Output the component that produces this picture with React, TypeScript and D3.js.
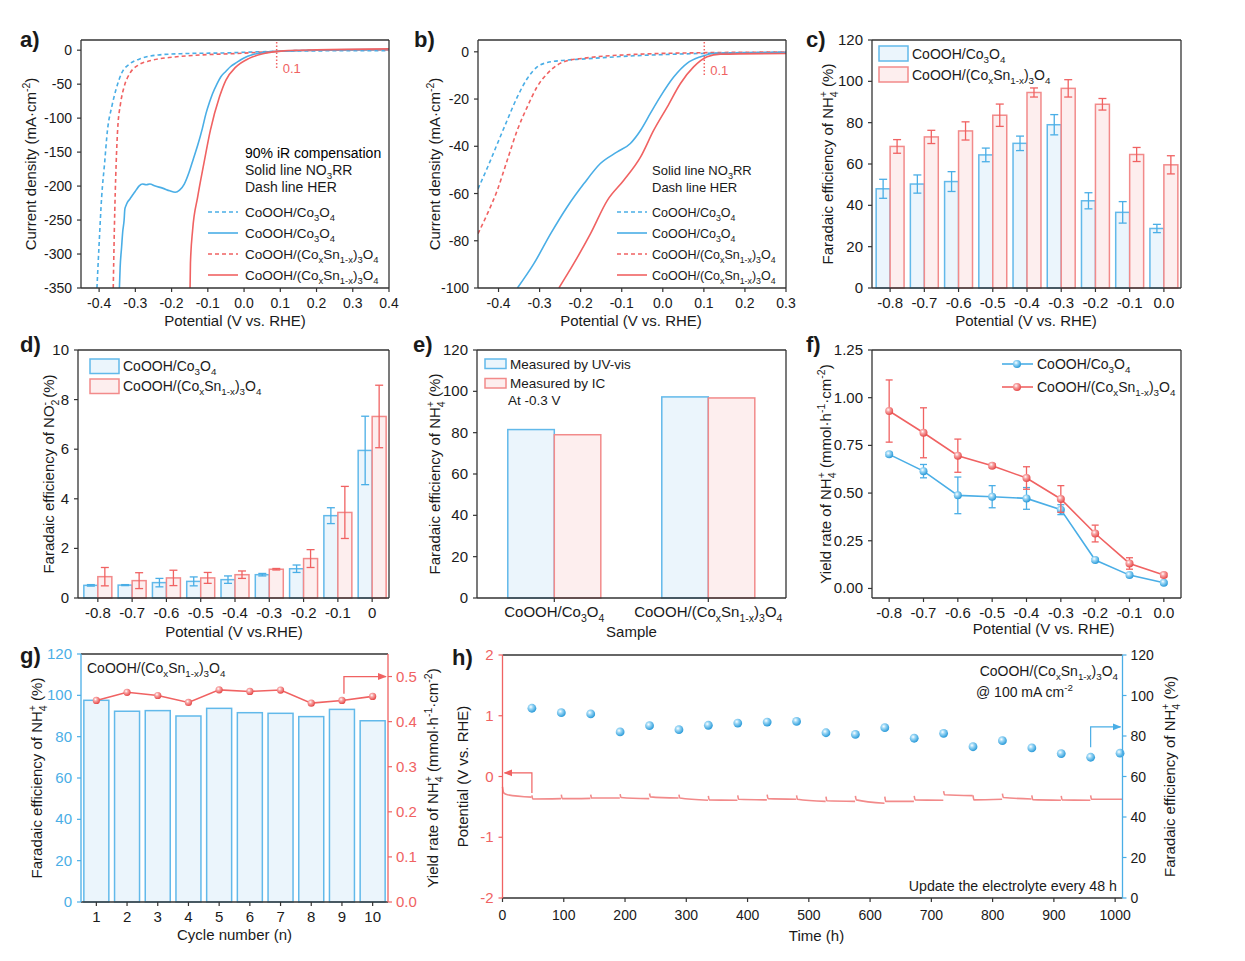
import React from 'react';
import * as d3 from 'd3';

// ================= DATA =================
// Panel a: LSV curves [potential V, current density mA cm-2]
const aHerCo: [number, number][] = [[-0.406,-350],[-0.400,-285],[-0.393,-216],[-0.385,-167],[-0.377,-118],[-0.365,-83],[-0.354,-59],[-0.338,-34],[-0.315,-20],[-0.283,-12],[-0.237,-7],[-0.164,-5],[-0.05,-4],[0.05,-2.2],[0.15,-1.2],[0.4,-0.6]];
const aHerSn: [number, number][] = [[-0.361,-350],[-0.358,-265],[-0.353,-167],[-0.349,-118],[-0.341,-79],[-0.331,-54],[-0.315,-34],[-0.292,-22],[-0.256,-15],[-0.192,-10],[-0.119,-7],[-0.027,-5],[0.064,-2.5],[0.15,-0.5],[0.4,0.5]];
const aNo3Co: [number, number][] = [[-0.344,-350],[-0.342,-320],[-0.338,-290],[-0.335,-268],[-0.331,-250],[-0.329,-234],[-0.326,-229],[-0.322,-224],[-0.315,-219],[-0.306,-212],[-0.298,-206],[-0.29,-200],[-0.28,-197],[-0.27,-198],[-0.26,-197],[-0.245,-200],[-0.225,-203],[-0.205,-207],[-0.19,-209],[-0.178,-206],[-0.165,-197],[-0.152,-180],[-0.14,-160],[-0.128,-140],[-0.115,-115],[-0.105,-93],[-0.095,-76],[-0.087,-64],[-0.075,-50],[-0.064,-39],[-0.05,-31],[-0.037,-24],[-0.02,-18],[-0.009,-14],[0.01,-9],[0.027,-6],[0.05,-4],[0.073,-2.5],[0.1,-1.5],[0.155,-0.5],[0.25,0.5],[0.4,1]];
const aNo3Sn: [number, number][] = [[-0.149,-350],[-0.148,-314],[-0.142,-265],[-0.128,-216],[-0.111,-167],[-0.093,-118],[-0.068,-69],[-0.05,-44],[-0.023,-25],[0.014,-12],[0.055,-5],[0.11,-1],[0.2,0.5],[0.4,2]];

// Panel b
const bHerCo: [number, number][] = [[-0.45,-58],[-0.427,-49],[-0.403,-39],[-0.379,-29],[-0.354,-19],[-0.33,-11.3],[-0.306,-6.4],[-0.281,-4.5],[-0.253,-3.8],[-0.19,-3],[-0.07,-1.7],[0.09,-0.7],[0.3,-0.1]];
const bHerSn: [number, number][] = [[-0.45,-77],[-0.427,-68.5],[-0.403,-58.6],[-0.379,-46],[-0.354,-33],[-0.33,-23.3],[-0.306,-14.8],[-0.281,-9.2],[-0.257,-5.6],[-0.233,-3.8],[-0.192,-2.7],[-0.07,-1.1],[0.09,-0.4],[0.3,-0.1]];
const bNo3Co: [number, number][] = [[-0.354,-100],[-0.314,-89.7],[-0.273,-77],[-0.233,-65.7],[-0.192,-55.8],[-0.152,-47.3],[-0.111,-42.4],[-0.079,-38.8],[-0.054,-33.2],[-0.03,-26],[-0.006,-19],[0.027,-10.6],[0.059,-4.9],[0.092,-2.1],[0.124,-0.7],[0.3,-0.3]];
const bNo3Sn: [number, number][] = [[-0.253,-100],[-0.217,-89.7],[-0.176,-77],[-0.135,-62.9],[-0.095,-54.4],[-0.054,-44.5],[-0.022,-33.2],[0.011,-23.3],[0.043,-13.4],[0.075,-6.4],[0.108,-2.1],[0.14,-1],[0.3,-0.7]];

// Panel c: FE of NH4+
const cCats = ['-0.8','-0.7','-0.6','-0.5','-0.4','-0.3','-0.2','-0.1','0.0'];
const cBlue = [48,50.3,51.5,64.4,70,79,42.2,36.6,28.8];
const cBlueErr = [4.6,4.4,4.8,3.3,3.5,4.9,3.9,5.2,2];
const cRed = [68.5,73.1,76,83.6,94.6,96.6,88.9,64.6,59.6];
const cRedErr = [3.3,3.2,4.4,5.4,2.2,4.2,2.8,3.4,4.4];

// Panel d: FE of NO2-
const dCats = ['-0.8','-0.7','-0.6','-0.5','-0.4','-0.3','-0.2','-0.1','0'];
const dBlue = [0.51,0.52,0.62,0.67,0.74,0.94,1.18,3.32,5.95];
const dBlueErr = [0.03,0.02,0.17,0.18,0.15,0.05,0.15,0.32,1.38];
const dRed = [0.86,0.70,0.81,0.81,0.94,1.16,1.59,3.45,7.32];
const dRedErr = [0.37,0.32,0.31,0.22,0.15,0.03,0.36,1.05,1.26];

// Panel e
const eCats = ['CoOOH/Co_{3}O_{4}','CoOOH/(Co_{x}Sn_{1-x})_{3}O_{4}'];
const eUV = [81.5, 97.3];
const eIC = [79, 96.8];

// Panel f: yield rate
const fPot = [-0.8,-0.7,-0.6,-0.5,-0.4,-0.3,-0.2,-0.1,0.0];
const fBlue = [0.703,0.615,0.488,0.481,0.472,0.413,0.149,0.07,0.03];
const fBlueErr = [0.01,0.035,0.096,0.058,0.057,0.026,0.008,0.008,0.006];
const fRed = [0.93,0.816,0.696,0.643,0.579,0.469,0.288,0.131,0.07];
const fRedErr = [0.163,0.131,0.087,0.01,0.059,0.07,0.044,0.03,0.01];

// Panel g: cycling
const gCycles = ['1','2','3','4','5','6','7','8','9','10'];
const gFE = [97.6,92.3,92.6,90,93.7,91.6,91.3,89.7,93.2,87.7];
const gYield = [0.447,0.465,0.458,0.4425,0.4705,0.467,0.47,0.441,0.447,0.456];

// Panel h: long-term stability
const hTimes = [48,96,144,192,240,288,336,384,432,480,528,576,624,672,720,768,816,864,912,960,1008];
const hFE = [93.7,91.5,90.9,82,85.1,83.1,85.3,86.4,86.9,87.2,81.6,80.8,84.1,78.9,81.3,74.7,77.7,74.1,71.3,69.5,71.5];
const hSegT0 = [0,48,96,144,192,240,288,336,384,432,480,528,576,624,672,720,768,816,864,912,960];
const hSegT1 = [48,96,144,192,240,288,336,384,432,480,528,576,624,672,720,768,816,864,912,960,1012];
const hSegSpike = [-0.17,-0.31,-0.30,-0.30,-0.29,-0.28,-0.30,-0.32,-0.31,-0.30,-0.31,-0.33,-0.32,-0.33,-0.32,-0.24,-0.31,-0.28,-0.31,-0.32,-0.31];
const hSegSettle = [-0.30,-0.37,-0.365,-0.355,-0.345,-0.335,-0.355,-0.385,-0.375,-0.365,-0.375,-0.40,-0.385,-0.41,-0.385,-0.30,-0.385,-0.345,-0.38,-0.385,-0.375];
const hSegEnd = [-0.34,-0.365,-0.36,-0.355,-0.365,-0.355,-0.39,-0.39,-0.385,-0.375,-0.41,-0.41,-0.44,-0.41,-0.39,-0.315,-0.375,-0.37,-0.39,-0.39,-0.375];

// ================= STYLE =================
const FONT = '"Liberation Sans", Arial, Helvetica, sans-serif';
const BLUE = '#4aaee6';
const RED = '#f06262';
const BLUE_FILL = '#ebf5fc';
const RED_FILL = '#fdeeee';
const BLUE_EDGE = '#62b9ea';
const RED_EDGE = '#f28a8a';
const FRAME = '#333333';
const TXT = '#1a1a1a';
const NAME_CO = 'CoOOH/Co_{3}O_{4}';
const NAME_SN = 'CoOOH/(Co_{x}Sn_{1-x})_{3}O_{4}';

// ================= HELPERS =================
type Part = { t: string; k: 'n' | 'sub' | 'sup' };
function parseRich(s: string): Part[] {
  const parts: Part[] = [];
  const re = /([_^])\{([^}]*)\}/g;
  let last = 0;
  let m: RegExpExecArray | null;
  while ((m = re.exec(s))) {
    if (m.index > last) parts.push({ t: s.slice(last, m.index), k: 'n' });
    parts.push({ t: m[2], k: m[1] === '_' ? 'sub' : 'sup' });
    last = re.lastIndex;
  }
  if (last < s.length) parts.push({ t: s.slice(last), k: 'n' });
  return parts;
}

function RT({ x = 0, y = 0, text, fs = 14, anchor = 'start', fill = TXT, transform, weight }: any) {
  const parts = parseRich(text);
  let cur = 0;
  const spans = parts.map((p, i) => {
    const target = p.k === 'sub' ? fs * 0.3 : p.k === 'sup' ? -fs * 0.42 : 0;
    const dy = target - cur;
    cur = target;
    let dx = 0;
    if (p.k === 'sup' && i > 0 && parts[i - 1].k === 'sub') dx = -parts[i - 1].t.length * fs * 0.7 * 0.56;
    return (
      <tspan key={i} dy={dy} dx={dx} fontSize={p.k === 'n' ? fs : fs * 0.7}>
        {p.t}
      </tspan>
    );
  });
  return (
    <text x={x} y={y} textAnchor={anchor} fill={fill} fontSize={fs} fontWeight={weight} transform={transform}>
      {spans}
    </text>
  );
}

function VTitle({ cx, cy, text, fs = 15, fill = TXT }: any) {
  return <RT x={0} y={0} text={text} fs={fs} anchor="middle" fill={fill} transform={`translate(${cx + 5},${cy}) rotate(-90)`} />;
}

function Frame({ x0, x1, y0, y1, left = FRAME, right = FRAME, top = FRAME, bottom = FRAME }: any) {
  const sw = 1.3;
  return (
    <g strokeWidth={sw} fill="none">
      <line x1={x0} x2={x1} y1={y0} y2={y0} stroke={top} />
      <line x1={x0} x2={x1} y1={y1} y2={y1} stroke={bottom} />
      <line x1={x0} x2={x0} y1={y0} y2={y1} stroke={left} />
      <line x1={x1} x2={x1} y1={y0} y2={y1} stroke={right} />
    </g>
  );
}

function BottomTicks({ ticks, y, fs = 14, gap = 20, fill = TXT, stroke = FRAME }: any) {
  return (
    <g>
      {ticks.map((t: any, i: number) => (
        <g key={i}>
          <line x1={t.pos} x2={t.pos} y1={y} y2={y + 4} stroke={stroke} strokeWidth={1.2} />
          {t.rich ? (
            <RT x={t.pos} y={y + gap} text={t.label} fs={fs} anchor="middle" fill={fill} />
          ) : (
            <text x={t.pos} y={y + gap} textAnchor="middle" fontSize={fs} fill={fill}>
              {t.label}
            </text>
          )}
        </g>
      ))}
    </g>
  );
}

function LeftTicks({ ticks, x, fs = 14, gap = 9, fill = TXT, stroke = FRAME }: any) {
  return (
    <g>
      {ticks.map((t: any, i: number) => (
        <g key={i}>
          <line x1={x - 4} x2={x} y1={t.pos} y2={t.pos} stroke={stroke} strokeWidth={1.2} />
          <text x={x - gap} y={t.pos + 5} textAnchor="end" fontSize={fs} fill={fill}>
            {t.label}
          </text>
        </g>
      ))}
    </g>
  );
}

function RightTicks({ ticks, x, fs = 14, gap = 8, fill = TXT, stroke = FRAME }: any) {
  return (
    <g>
      {ticks.map((t: any, i: number) => (
        <g key={i}>
          <line x1={x} x2={x + 4} y1={t.pos} y2={t.pos} stroke={stroke} strokeWidth={1.2} />
          <text x={x + gap} y={t.pos + 5} textAnchor="start" fontSize={fs} fill={fill}>
            {t.label}
          </text>
        </g>
      ))}
    </g>
  );
}

function ErrBar({ x, y1, y2, color, cap = 4 }: any) {
  return (
    <g stroke={color} strokeWidth={1.3}>
      <line x1={x} x2={x} y1={y1} y2={y2} />
      <line x1={x - cap} x2={x + cap} y1={y1} y2={y1} />
      <line x1={x - cap} x2={x + cap} y1={y2} y2={y2} />
    </g>
  );
}

function Letter({ x, y, t }: any) {
  return (
    <text x={x} y={y} fontSize={22} fontWeight="bold" fill={TXT}>
      {t}
    </text>
  );
}

const fmt1 = (v: number) => (Math.abs(v) < 1e-9 ? '0.0' : v.toFixed(1));
const fmt2 = (v: number) => (Math.abs(v) < 1e-9 ? '0.00' : v.toFixed(2));

// ================= PANELS =================
function LsvPanel({ id, x0, x1, y0, y1, xDomain, yDomain, xTicks, yTicks, her1, her2, no1, no2, legendTop, legendFs, showIR, legX, legLineX, markV, markLabelDy }: any) {
  const x = d3.scaleLinear().domain(xDomain).range([x0, x1]);
  const y = d3.scaleLinear().domain(yDomain).range([y1, y0]);
  const line = d3.line<[number, number]>().x((d) => x(d[0])).y((d) => y(d[1])).curve(d3.curveMonotoneX);
  const legY = legendTop;
  const legRows = [
    { dash: '4,3', c: BLUE, t: NAME_CO },
    { dash: undefined, c: BLUE, t: NAME_CO },
    { dash: '4,3', c: RED, t: NAME_SN },
    { dash: undefined, c: RED, t: NAME_SN },
  ];
  return (
    <g>
      <defs>
        <clipPath id={`clip-${id}`}>
          <rect x={x0} y={y0} width={x1 - x0} height={y1 - y0} />
        </clipPath>
      </defs>
      <g clipPath={`url(#clip-${id})`} fill="none" strokeWidth={1.6}>
        <path d={line(her1) || ''} stroke={BLUE} strokeDasharray="4,3" />
        <path d={line(her2) || ''} stroke={RED} strokeDasharray="4,3" />
        <path d={line(no1) || ''} stroke={BLUE} />
        <path d={line(no2) || ''} stroke={RED} />
      </g>
      <line x1={x(markV)} x2={x(markV)} y1={y0 + 2} y2={y(markLabelDy)} stroke={RED} strokeWidth={1.5} strokeDasharray="1.5,2" />
      <text x={x(markV) + 6} y={y(0) + 23} fontSize={13} fill={RED}>0.1</text>
      <Frame x0={x0} x1={x1} y0={y0} y1={y1} />
      <BottomTicks ticks={xTicks.map((v: number) => ({ pos: x(v), label: fmt1(v) }))} y={y1} />
      <LeftTicks ticks={yTicks.map((v: number) => ({ pos: y(v), label: String(v) }))} x={x0} />
      {showIR && <text x={legX} y={legY - 54} fontSize={legendFs}>90% iR compensation</text>}
      <RT x={legX} y={legY - 37} text={'Solid line  NO_{3}RR'} fs={legendFs} />
      <RT x={legX} y={legY - 20} text={'Dash line  HER'} fs={legendFs} />
      {legRows.map((r, i) => (
        <g key={i}>
          <line x1={legLineX} x2={legLineX + 30} y1={legY + i * 21} y2={legY + i * 21} stroke={r.c} strokeWidth={1.6} strokeDasharray={r.dash} />
          <RT x={legX} y={legY + i * 21 + 5} text={r.t} fs={legendFs - 0.5} />
        </g>
      ))}
    </g>
  );
}

function GroupBars({ x0, x1, y0, y1, bandR, cats, blue, blueErr, red, redErr, yDomain, yTicks, yFmt, padding }: any) {
  const xb = d3.scaleBand<string>().domain(cats).range(bandR).paddingInner(padding).paddingOuter(padding / 2);
  const xi = d3.scaleBand<string>().domain(['b', 'r']).range([0, xb.bandwidth()]);
  const y = d3.scaleLinear().domain(yDomain).range([y1, y0]);
  return (
    <g>
      {cats.map((c: string, i: number) => {
        const bx = (xb(c) || 0) + (xi('b') || 0);
        const rx = (xb(c) || 0) + (xi('r') || 0);
        const w = xi.bandwidth();
        return (
          <g key={c}>
            <rect x={bx} y={y(blue[i])} width={w} height={y(0) - y(blue[i])} fill={BLUE_FILL} stroke={BLUE_EDGE} strokeWidth={1.5} />
            <rect x={rx} y={y(red[i])} width={w} height={y(0) - y(red[i])} fill={RED_FILL} stroke={RED_EDGE} strokeWidth={1.5} />
            {blueErr && <ErrBar x={bx + w / 2} y1={y(blue[i] + blueErr[i])} y2={y(blue[i] - blueErr[i])} color={BLUE} />}
            {redErr && <ErrBar x={rx + w / 2} y1={y(red[i] + redErr[i])} y2={y(red[i] - redErr[i])} color={RED} />}
          </g>
        );
      })}
      <Frame x0={x0} x1={x1} y0={y0} y1={y1} />
      <BottomTicks ticks={cats.map((c: string) => ({ pos: (xb(c) || 0) + xb.bandwidth() / 2, label: c, rich: true }))} y={y1} fs={15} />
      <LeftTicks ticks={yTicks.map((v: number) => ({ pos: y(v), label: yFmt(v) }))} x={x0} fs={15} />
    </g>
  );
}

function LegendBoxes({ x, y, items, fs = 14, bw = 29, bh = 15, step = 21 }: any) {
  return (
    <g>
      {items.map((it: any, i: number) => (
        <g key={i}>
          <rect x={x} y={y + i * step} width={bw} height={bh} fill={it.fill} stroke={it.stroke} strokeWidth={1.5} />
          <RT x={x + bw + 4} y={y + i * step + bh / 2 + 5} text={it.t} fs={fs} />
        </g>
      ))}
    </g>
  );
}

function Gradients() {
  return (
    <defs>
      <radialGradient id="sphBlue" cx="38%" cy="35%" r="65%">
        <stop offset="0" stopColor="#ffffff" />
        <stop offset="0.35" stopColor="#9dd8f6" />
        <stop offset="1" stopColor="#2b9bd9" />
      </radialGradient>
      <radialGradient id="sphRed" cx="38%" cy="35%" r="65%">
        <stop offset="0" stopColor="#ffffff" />
        <stop offset="0.35" stopColor="#f8a8a8" />
        <stop offset="1" stopColor="#e64a4a" />
      </radialGradient>
      <marker id="arrRed" viewBox="0 0 10 10" refX="9" refY="5" markerWidth="7" markerHeight="7" orient="auto">
        <path d="M0,1 L10,5 L0,9 z" fill={RED} />
      </marker>
      <marker id="arrBlue" viewBox="0 0 10 10" refX="9" refY="5" markerWidth="7" markerHeight="7" orient="auto">
        <path d="M0,1 L10,5 L0,9 z" fill={BLUE} />
      </marker>
    </defs>
  );
}

function PanelF() {
  const x0 = 872, x1 = 1181, y0 = 350, y1 = 598;
  const x = d3.scaleLinear().domain([-0.85, 0.05]).range([x0, x1]);
  const y = d3.scaleLinear().domain([-0.05, 1.25]).range([y1, y0]);
  const line = d3.line<number>().x((_, i) => x(fPot[i])).y((d) => y(d));
  const series = [
    { v: fBlue, e: fBlueErr, c: BLUE, g: 'sphBlue' },
    { v: fRed, e: fRedErr, c: RED, g: 'sphRed' },
  ];
  return (
    <g>
      {series.map((s, k) => (
        <g key={k}>
          <path d={line(s.v) || ''} fill="none" stroke={s.c} strokeWidth={1.6} />
          {s.v.map((v, i) => (
            <ErrBar key={i} x={x(fPot[i])} y1={y(v + s.e[i])} y2={y(v - s.e[i])} color={s.c} cap={3.5} />
          ))}
          {s.v.map((v, i) => (
            <circle key={'c' + i} cx={x(fPot[i])} cy={y(v)} r={4} fill={`url(#${s.g})`} />
          ))}
        </g>
      ))}
      <Frame x0={x0} x1={x1} y0={y0} y1={y1} />
      <BottomTicks ticks={fPot.map((v) => ({ pos: x(v), label: fmt1(v) }))} y={y1} fs={15} />
      <LeftTicks ticks={[0, 0.25, 0.5, 0.75, 1.0, 1.25].map((v) => ({ pos: y(v), label: fmt2(v) }))} x={x0} fs={15} />
      {[
        { c: BLUE, g: 'sphBlue', t: NAME_CO, yy: 364 },
        { c: RED, g: 'sphRed', t: NAME_SN, yy: 387 },
      ].map((l, i) => (
        <g key={i}>
          <line x1={1002} x2={1033} y1={l.yy} y2={l.yy} stroke={l.c} strokeWidth={1.6} />
          <circle cx={1017} cy={l.yy} r={4} fill={`url(#${l.g})`} />
          <RT x={1037} y={l.yy + 5} text={l.t} fs={14} />
        </g>
      ))}
      <RT x={x(-0.35)} y={y1 + 36} text="Potential (V vs. RHE)" fs={15} anchor="middle" />
      <VTitle cx={826} cy={(y0 + y1) / 2} text={'Yield rate of NH_{4}^{+} (mmol·h^{-1}·cm^{-2})'} />
    </g>
  );
}

function PanelG() {
  const x0 = 81, x1 = 388, y0 = 654, y1 = 902;
  const xb = d3.scaleBand<string>().domain(gCycles).range([x0, x1]).paddingInner(0.186).paddingOuter(0.093);
  const yL = d3.scaleLinear().domain([0, 120]).range([y1, y0]);
  const yR = d3.scaleLinear().domain([0, 0.55]).range([y1, y0]);
  const cx = (c: string) => (xb(c) || 0) + xb.bandwidth() / 2;
  const line = d3.line<number>().x((_, i) => cx(gCycles[i])).y((d) => yR(d));
  const ax = cx('9') + 2;
  return (
    <g>
      {gCycles.map((c, i) => (
        <rect key={c} x={xb(c)} y={yL(gFE[i])} width={xb.bandwidth()} height={yL(0) - yL(gFE[i])} fill={BLUE_FILL} stroke={BLUE_EDGE} strokeWidth={1.5} />
      ))}
      <path d={line(gYield) || ''} fill="none" stroke={RED} strokeWidth={1.6} />
      {gYield.map((v, i) => (
        <circle key={i} cx={cx(gCycles[i])} cy={yR(v)} r={3.6} fill="url(#sphRed)" />
      ))}
      <polyline points={`${ax},${yR(0.462)} ${ax},${yR(0.5)} ${x1 - 2},${yR(0.5)}`} fill="none" stroke={RED} strokeWidth={1.3} markerEnd="url(#arrRed)" />
      <Frame x0={x0} x1={x1} y0={y0} y1={y1} left={BLUE} right={RED} />
      <BottomTicks ticks={gCycles.map((c) => ({ pos: cx(c), label: c }))} y={y1} fs={15} />
      <LeftTicks ticks={d3.range(0, 121, 20).map((v) => ({ pos: yL(v), label: String(v) }))} x={x0} fs={15} fill={BLUE} stroke={BLUE} />
      <RightTicks ticks={[0, 0.1, 0.2, 0.3, 0.4, 0.5].map((v) => ({ pos: yR(v), label: fmt1(v) }))} x={x1} fs={15} fill={RED} stroke={RED} />
      <RT x={87} y={673} text={NAME_SN} fs={14} />
      <text x={(x0 + x1) / 2} y={940} textAnchor="middle" fontSize={15} fill={TXT}>Cycle number (n)</text>
      <VTitle cx={37} cy={(y0 + y1) / 2} text={'Faradaic efficiency of NH_{4}^{+} (%)'} />
      <VTitle cx={433} cy={(y0 + y1) / 2} text={'Yield rate of NH_{4}^{+} (mmol·h^{-1}·cm^{-2})'} />
    </g>
  );
}

function PanelH() {
  const x0 = 502.5, x1 = 1122.5, y0 = 655, y1 = 898;
  const x = d3.scaleLinear().domain([0, 1012]).range([x0, x1]);
  const yL = d3.scaleLinear().domain([-2, 2]).range([y1, y0]);
  const yR = d3.scaleLinear().domain([0, 120]).range([y1, y0]);
  const line = d3.line<[number, number]>().x((d) => x(d[0])).y((d) => yL(d[1])).curve(d3.curveMonotoneX);
  const rx = x(48);
  const bx = x(960);
  return (
    <g>
      {hSegT0.map((t0, i) => {
        const t1 = hSegT1[i];
        const pts: [number, number][] = i === 0
          ? [[t0, hSegSpike[i]], [t0 + 2, -0.27], [t0 + 8, hSegSettle[i]], [t1 - 0.5, hSegEnd[i]]]
          : [[t0, hSegSpike[i]], [t0 + 1.5, hSegSettle[i]], [t1 - 0.5, hSegEnd[i]]];
        return <path key={i} d={line(pts) || ''} fill="none" stroke={RED_EDGE} strokeWidth={1.6} />;
      })}
      {hTimes.map((t, i) => (
        <circle key={i} cx={x(t)} cy={yR(hFE[i])} r={4.4} fill="url(#sphBlue)" />
      ))}
      <polyline points={`${rx},${yL(-0.27)} ${rx},${yL(0.06)} ${x0 + 2},${yL(0.06)}`} fill="none" stroke={RED} strokeWidth={1.2} markerEnd="url(#arrRed)" />
      <polyline points={`${bx},${yR(74.5)} ${bx},${yR(84.5)} ${x1 - 2},${yR(84.5)}`} fill="none" stroke={BLUE} strokeWidth={1.2} markerEnd="url(#arrBlue)" />
      <Frame x0={x0} x1={x1} y0={y0} y1={y1} left={RED} right={BLUE} />
      <BottomTicks ticks={d3.range(0, 1001, 100).map((v) => ({ pos: x(v), label: String(v) }))} y={y1} fs={14} gap={22} />
      <LeftTicks ticks={[-2, -1, 0, 1, 2].map((v) => ({ pos: yL(v), label: String(v) }))} x={x0} fs={15} fill={RED} stroke={RED} />
      <RightTicks ticks={d3.range(0, 121, 20).map((v) => ({ pos: yR(v), label: String(v) }))} x={x1} fs={14} stroke={BLUE} />
      <RT x={1118} y={676} text={NAME_SN} fs={14} anchor="end" />
      <RT x={976} y={697} text={'@ 100 mA cm^{-2}'} fs={14} />
      <text x={1117} y={891} textAnchor="end" fontSize={14.2} fill={TXT}>Update the electrolyte every 48 h</text>
      <text x={(x0 + x1) / 2 + 4} y={941} textAnchor="middle" fontSize={15} fill={TXT}>Time (h)</text>
      <VTitle cx={463} cy={(y0 + y1) / 2} text="Potential (V vs. RHE)" />
      <VTitle cx={1170} cy={(y0 + y1) / 2} text={'Faradaic efficiency of NH_{4}^{+} (%)'} />
    </g>
  );
}

function PanelE() {
  const x0 = 477, x1 = 786, y0 = 350, y1 = 598;
  const xb = d3.scaleBand<string>().domain(eCats).range([477.3, 785.3]).paddingInner(0.396).paddingOuter(0.198);
  const xi = d3.scaleBand<string>().domain(['uv', 'ic']).range([0, xb.bandwidth()]);
  const y = d3.scaleLinear().domain([0, 120]).range([y1, y0]);
  return (
    <g>
      {eCats.map((c, i) => (
        <g key={c}>
          <rect x={(xb(c) || 0) + (xi('uv') || 0)} y={y(eUV[i])} width={xi.bandwidth()} height={y(0) - y(eUV[i])} fill={BLUE_FILL} stroke={BLUE_EDGE} strokeWidth={1.5} />
          <rect x={(xb(c) || 0) + (xi('ic') || 0)} y={y(eIC[i])} width={xi.bandwidth()} height={y(0) - y(eIC[i])} fill={RED_FILL} stroke={RED_EDGE} strokeWidth={1.5} />
        </g>
      ))}
      <Frame x0={x0} x1={x1} y0={y0} y1={y1} />
      <BottomTicks ticks={eCats.map((c) => ({ pos: (xb(c) || 0) + xb.bandwidth() / 2, label: c, rich: true }))} y={y1} fs={15} gap={19} />
      <LeftTicks ticks={d3.range(0, 121, 20).map((v) => ({ pos: y(v), label: String(v) }))} x={x0} fs={15} />
      <LegendBoxes x={485} y={359} bw={21} bh={9.5} step={19.5} fs={13.5} items={[
        { fill: BLUE_FILL, stroke: BLUE_EDGE, t: 'Measured by UV-vis' },
        { fill: RED_FILL, stroke: RED_EDGE, t: 'Measured by IC' },
      ]} />
      <text x={508} y={405} fontSize={13.5} fill={TXT}>At -0.3 V</text>
      <text x={(x0 + x1) / 2} y={637} textAnchor="middle" fontSize={15} fill={TXT}>Sample</text>
      <VTitle cx={435} cy={(y0 + y1) / 2} text={'Faradaic efficiency of NH_{4}^{+} (%)'} />
    </g>
  );
}

export default function App() {
  return (
    <svg width={1245} height={961} style={{ position: 'absolute', left: 0, top: 0, fontFamily: FONT, background: '#fff' }}>
      <Gradients />
      <rect x={0} y={0} width={1245} height={961} fill="#fff" />

      {/* a */}
      <LsvPanel id="a" x0={81} x1={389} y0={40} y1={288} xDomain={[-0.45, 0.4]} yDomain={[-350, 15]}
        xTicks={[-0.4, -0.3, -0.2, -0.1, 0, 0.1, 0.2, 0.3, 0.4]} yTicks={[0, -50, -100, -150, -200, -250, -300, -350]}
        her1={aHerCo} her2={aHerSn} no1={aNo3Co} no2={aNo3Sn} legendTop={212} legendFs={14} showIR legX={245} legLineX={208}
        markV={0.09} markLabelDy={-29} />
      <text x={235} y={326} textAnchor="middle" fontSize={15} fill={TXT}>Potential (V vs. RHE)</text>
      <VTitle cx={31} cy={164} text={'Current density (mA·cm^{-2})'} />
      <Letter x={20} y={47} t="a)" />

      {/* b */}
      <LsvPanel id="b" x0={478} x1={786} y0={40} y1={288} xDomain={[-0.45, 0.3]} yDomain={[-100, 5]}
        xTicks={[-0.4, -0.3, -0.2, -0.1, 0, 0.1, 0.2, 0.3]} yTicks={[0, -20, -40, -60, -80, -100]}
        her1={bHerCo} her2={bHerSn} no1={bNo3Co} no2={bNo3Sn} legendTop={212} legendFs={13} legX={652} legLineX={617}
        markV={0.101} markLabelDy={-10.6} />
      <text x={631} y={326} textAnchor="middle" fontSize={15} fill={TXT}>Potential (V vs. RHE)</text>
      <VTitle cx={435} cy={164} text={'Current density (mA·cm^{-2})'} />
      <Letter x={414} y={47} t="b)" />

      {/* c */}
      <GroupBars x0={872} x1={1181} y0={40} y1={288} bandR={[873, 1181]} cats={cCats} blue={cBlue} blueErr={cBlueErr} red={cRed} redErr={cRedErr}
        yDomain={[0, 120]} yTicks={[0, 20, 40, 60, 80, 100, 120]} yFmt={(v: number) => String(v)} padding={0.184} />
      <LegendBoxes x={879} y={46} items={[
        { fill: BLUE_FILL, stroke: BLUE_EDGE, t: NAME_CO },
        { fill: RED_FILL, stroke: RED_EDGE, t: NAME_SN },
      ]} />
      <text x={1026} y={326} textAnchor="middle" fontSize={15} fill={TXT}>Potential (V vs. RHE)</text>
      <VTitle cx={828} cy={164} text={'Faradaic efficiency of NH_{4}^{+} (%)'} />
      <Letter x={806} y={47} t="c)" />

      {/* d */}
      <GroupBars x0={78} x1={389} y0={350} y1={598} bandR={[80.7, 389.3]} cats={dCats} blue={dBlue} blueErr={dBlueErr} red={dRed} redErr={dRedErr}
        yDomain={[0, 10]} yTicks={[0, 2, 4, 6, 8, 10]} yFmt={(v: number) => String(v)} padding={0.184} />
      <LegendBoxes x={90} y={359} step={20} bh={14.5} items={[
        { fill: BLUE_FILL, stroke: BLUE_EDGE, t: NAME_CO },
        { fill: RED_FILL, stroke: RED_EDGE, t: NAME_SN },
      ]} />
      <text x={234} y={637} textAnchor="middle" fontSize={15} fill={TXT}>Potential (V vs.RHE)</text>
      <VTitle cx={49} cy={474} text={'Faradaic efficiency of NO_{2}^{-} (%)'} />
      <Letter x={20} y={352} t="d)" />

      {/* e */}
      <PanelE />
      <Letter x={413} y={352} t="e)" />

      {/* f */}
      <PanelF />
      <Letter x={806} y={352} t="f)" />

      {/* g */}
      <PanelG />
      <Letter x={20} y={663} t="g)" />

      {/* h */}
      <PanelH />
      <Letter x={452} y={665} t="h)" />
    </svg>
  );
}
